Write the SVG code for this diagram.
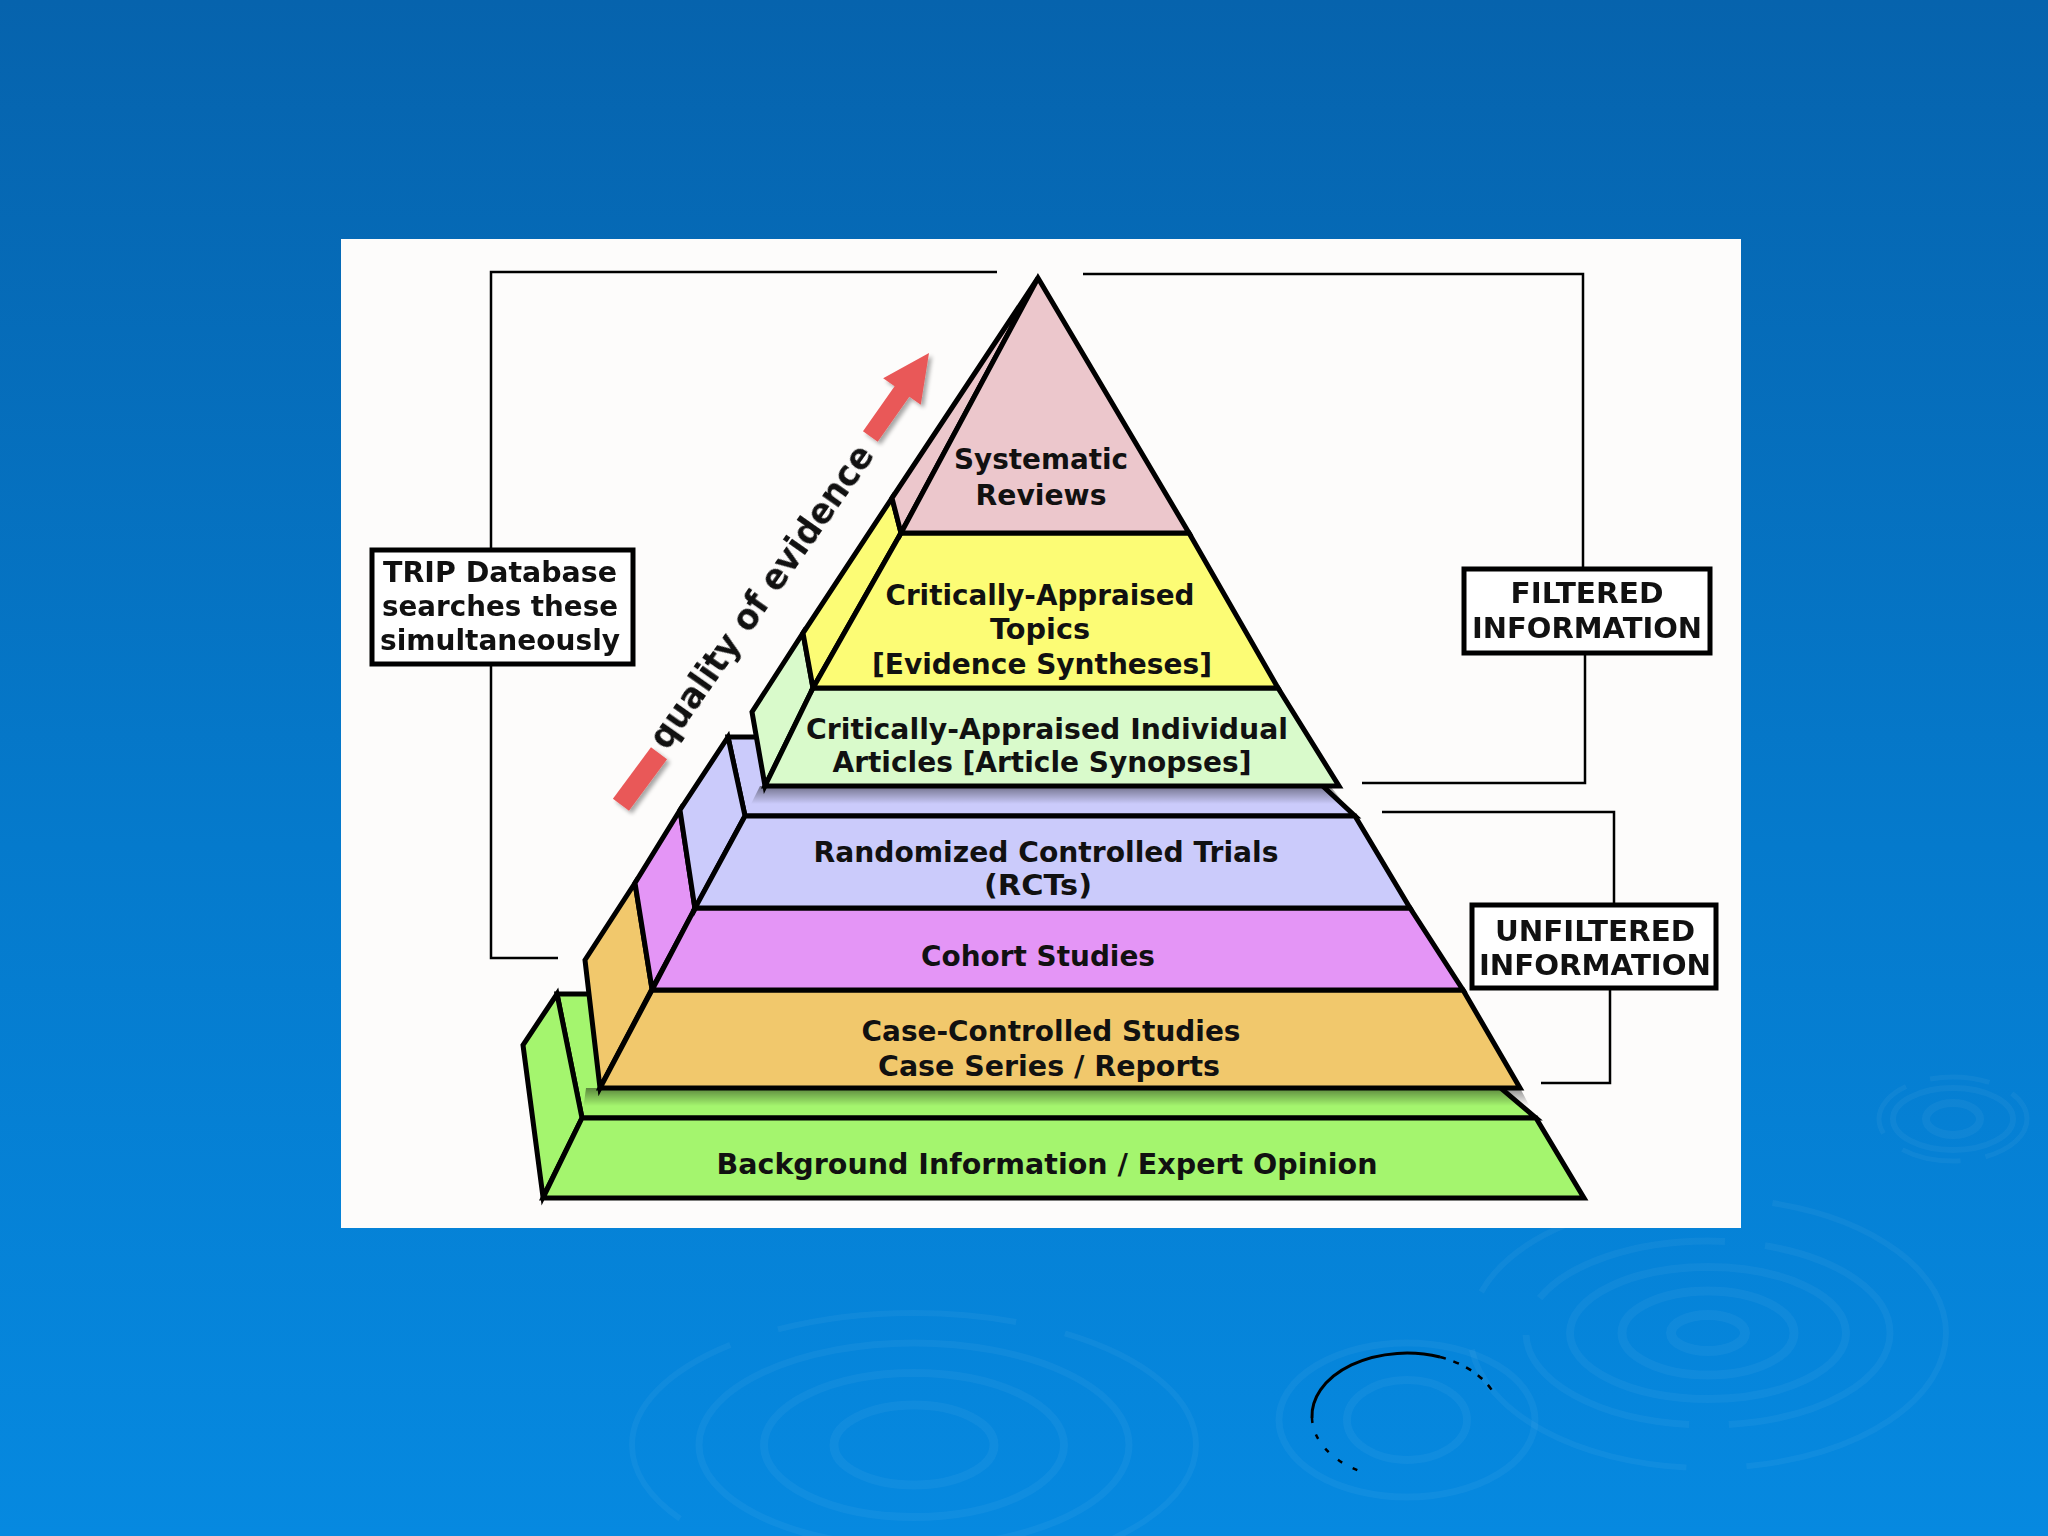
<svg xmlns="http://www.w3.org/2000/svg" width="2048" height="1536" viewBox="0 0 2048 1536">
<defs>
<linearGradient id="bg" x1="0" y1="0" x2="0" y2="1">
<stop offset="0" stop-color="#0663AD"/>
<stop offset="0.55" stop-color="#057ACC"/>
<stop offset="1" stop-color="#0689E0"/>
</linearGradient>
<linearGradient id="shadow" x1="0" y1="0" x2="0" y2="1">
<stop offset="0" stop-color="#000" stop-opacity="0.45"/>
<stop offset="0.6" stop-color="#000" stop-opacity="0"/>
</linearGradient>
<filter id="ds" x="-20%" y="-20%" width="140%" height="140%">
<feGaussianBlur in="SourceAlpha" stdDeviation="2"/>
<feOffset dx="3" dy="3" result="o"/>
<feComponentTransfer><feFuncA type="linear" slope="0.35"/></feComponentTransfer>
<feMerge><feMergeNode/><feMergeNode in="SourceGraphic"/></feMerge>
</filter>
</defs>
<style>
.face{stroke:#000;stroke-width:5;stroke-linejoin:miter;stroke-miterlimit:6}
.pink{fill:#ECC7CC}.yel{fill:#FCFC75}.lgr{fill:#D9FACB}.lav{fill:#CBCBFB}.mag{fill:#E495F6}.ora{fill:#F1C86C}.grn{fill:#A4F56E}
.lbl{font-family:"DejaVu Sans",Verdana,sans-serif;font-weight:bold;font-size:28px;fill:#111;text-anchor:middle}
.box{fill:#FFFFFF;stroke:#000;stroke-width:5}
.brk{fill:none;stroke:#000;stroke-width:2.5}
.rip{fill:none;stroke:#FFFFFF;stroke-opacity:0.045}
</style>
<rect width="2048" height="1536" fill="url(#bg)"/>
<g id="ripples">
<ellipse class="rip" cx="1953" cy="1119" rx="27" ry="16" stroke-width="8"/>
<ellipse class="rip" cx="1953" cy="1119" rx="60" ry="31" stroke-width="6"/>
<ellipse class="rip" cx="1953" cy="1119" rx="74" ry="42" stroke-width="5" stroke-dasharray="60 25"/>
<ellipse class="rip" cx="1708" cy="1333" rx="37" ry="18" stroke-width="10"/>
<ellipse class="rip" cx="1708" cy="1333" rx="86" ry="42" stroke-width="9"/>
<ellipse class="rip" cx="1708" cy="1333" rx="138" ry="66" stroke-width="8"/>
<ellipse class="rip" cx="1708" cy="1333" rx="182" ry="92" stroke-width="7" stroke-dasharray="200 40"/>
<ellipse class="rip" cx="1708" cy="1333" rx="238" ry="135" stroke-width="6" stroke-dasharray="260 60"/>
<ellipse class="rip" cx="1407" cy="1420" rx="60" ry="40" stroke-width="8"/>
<ellipse class="rip" cx="1407" cy="1420" rx="128" ry="77" stroke-width="7"/>
<ellipse class="rip" cx="914" cy="1445" rx="80" ry="40" stroke-width="9"/>
<ellipse class="rip" cx="914" cy="1445" rx="150" ry="72" stroke-width="8"/>
<ellipse class="rip" cx="914" cy="1445" rx="215" ry="102" stroke-width="7"/>
<ellipse class="rip" cx="914" cy="1445" rx="282" ry="132" stroke-width="6" stroke-dasharray="240 50"/>
<path d="M1312,1418 A95,63 0 0 1 1440,1357" fill="none" stroke="#000" stroke-width="3"/>
<path d="M1440,1357 A95,63 0 0 1 1493,1392" fill="none" stroke="#000" stroke-width="2.5" stroke-dasharray="6 8"/>
<path d="M1312,1418 A95,63 0 0 0 1362,1472" fill="none" stroke="#000" stroke-width="2.5" stroke-dasharray="5 12"/>
</g>
<rect id="panel" x="341" y="239" width="1400" height="989" fill="#FDFCFB"/>

<g id="connectors">
<polyline class="brk" points="997,272 491,272 491,548"/>
<polyline class="brk" points="491,666 491,958 558,958"/>
<polyline class="brk" points="1083,274 1583,274 1583,567"/>
<polyline class="brk" points="1585,655 1585,783 1362,783"/>
<polyline class="brk" points="1382,812 1614,812 1614,903"/>
<polyline class="brk" points="1610,990 1610,1083 1541,1083"/>
</g>

<g id="layer-background">
<polygon class="face grn" points="557,994 1390,994 1536,1118 582,1118"/>
<polygon points="586,1088 1520,1088 1536,1118 582,1118" fill="url(#shadow)"/>
<polygon class="face grn" points="557,994 582,1118 543,1197 523,1045"/>
<polygon class="face grn" points="582,1118 1536,1118 1584,1198 543,1198"/>
<text class="lbl" x="1047" y="1174" textLength="661" lengthAdjust="spacingAndGlyphs">Background Information / Expert Opinion</text>
</g>
<g id="layer-case">
<polygon class="face ora" points="635,883 652,989 600,1088 585,960"/>
<polygon class="face ora" points="652,990 1463,990 1520,1088 600,1088"/>
<text class="lbl" x="1051" y="1041" textLength="379" lengthAdjust="spacingAndGlyphs">Case-Controlled Studies</text>
<text class="lbl" x="1049" y="1076" textLength="342" lengthAdjust="spacingAndGlyphs">Case Series / Reports</text>
</g>
<g id="layer-cohort">
<polygon class="face mag" points="680,810 695,909 652,989 635,883"/>
<polygon class="face mag" points="695,908 1410,908 1463,990 652,990"/>
<text class="lbl" x="1038" y="966" textLength="234" lengthAdjust="spacingAndGlyphs">Cohort Studies</text>
</g>
<g id="layer-rct">
<polygon class="face lav" points="728,737 1270,737 1355,816 745,816"/>
<polygon points="760,786 1330,786 1355,816 745,816" fill="url(#shadow)"/>
<polygon class="face lav" points="728,737 745,816 695,909 680,810"/>
<polygon class="face lav" points="745,816 1355,816 1410,908 695,908"/>
<text class="lbl" x="1046" y="862" textLength="465" lengthAdjust="spacingAndGlyphs">Randomized Controlled Trials</text>
<text class="lbl" x="1038" y="895" textLength="108" lengthAdjust="spacingAndGlyphs">(RCTs)</text>
</g>
<g id="layer-articles">
<polygon class="face lgr" points="803,633 813,688 765,786 752,712"/>
<polygon class="face lgr" points="813,688 1278,688 1339,786 765,786"/>
<text class="lbl" x="1047" y="739" textLength="482" lengthAdjust="spacingAndGlyphs">Critically-Appraised Individual</text>
<text class="lbl" x="1042" y="772" textLength="419" lengthAdjust="spacingAndGlyphs">Articles [Article Synopses]</text>
</g>
<g id="layer-topics">
<polygon class="face yel" points="892,498 901,533 813,688 803,633"/>
<polygon class="face yel" points="901,533 1189,533 1278,688 813,688"/>
<text class="lbl" x="1040" y="605" textLength="309" lengthAdjust="spacingAndGlyphs">Critically-Appraised</text>
<text class="lbl" x="1040" y="639" textLength="100" lengthAdjust="spacingAndGlyphs">Topics</text>
<text class="lbl" x="1042" y="674" textLength="340" lengthAdjust="spacingAndGlyphs">[Evidence Syntheses]</text>
</g>
<g id="layer-systematic">
<polygon class="face pink" points="1038,278 892,498 901,533"/>
<polygon class="face pink" points="1038,278 1189,533 901,533"/>
<text class="lbl" x="1041" y="469" textLength="174" lengthAdjust="spacingAndGlyphs">Systematic</text>
<text class="lbl" x="1041" y="505" textLength="131" lengthAdjust="spacingAndGlyphs">Reviews</text>
</g>

<g id="quality-arrow" filter="url(#ds)">
<polygon fill="#E95858" transform="translate(929,353) rotate(-54.9)" points="0,0 -47,-23 -47,-9 -102,-9 -102,9 -47,9 -47,23"/>
<rect fill="#E95858" transform="translate(640,779) rotate(-53.5)" x="-32" y="-10" width="64" height="20"/>
</g>
<g id="quality-label">
<text transform="translate(762,597) rotate(-54.9)" x="0" y="11" font-family="DejaVu Sans, Verdana, sans-serif" font-weight="bold" font-size="36" fill="#111" text-anchor="middle" textLength="362" lengthAdjust="spacingAndGlyphs">quality of evidence</text>
</g>

<g id="box-trip">
<rect class="box" x="372" y="550" width="261" height="114"/>
<text class="lbl" x="500" y="582" textLength="234" lengthAdjust="spacingAndGlyphs">TRIP Database</text>
<text class="lbl" x="500" y="616" textLength="236" lengthAdjust="spacingAndGlyphs">searches these</text>
<text class="lbl" x="500" y="650" textLength="240" lengthAdjust="spacingAndGlyphs">simultaneously</text>
</g>
<g id="box-filtered">
<rect class="box" x="1464" y="569" width="246" height="84"/>
<text class="lbl" x="1587" y="603" textLength="153" lengthAdjust="spacingAndGlyphs">FILTERED</text>
<text class="lbl" x="1587" y="638" textLength="230" lengthAdjust="spacingAndGlyphs">INFORMATION</text>
</g>
<g id="box-unfiltered">
<rect class="box" x="1472" y="905" width="244" height="83"/>
<text class="lbl" x="1595" y="941" textLength="200" lengthAdjust="spacingAndGlyphs">UNFILTERED</text>
<text class="lbl" x="1595" y="975" textLength="232" lengthAdjust="spacingAndGlyphs">INFORMATION</text>
</g>
</svg>
